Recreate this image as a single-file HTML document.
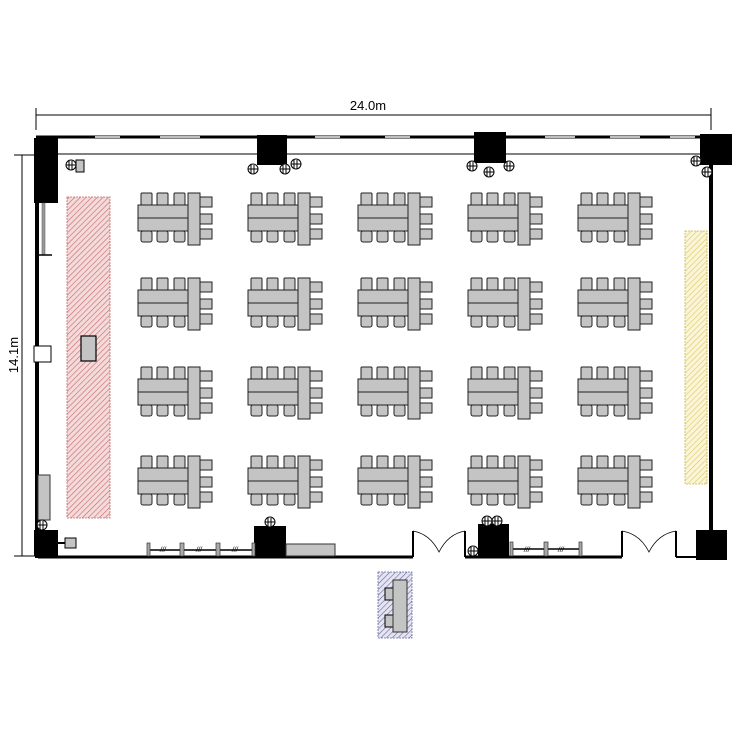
<!DOCTYPE html>
<html><head><meta charset="utf-8"><style>html,body{margin:0;padding:0;background:#fff}svg{display:block}</style></head>
<body>
<svg width="750" height="750" viewBox="0 0 750 750" xmlns="http://www.w3.org/2000/svg">
<defs>
<pattern id="hr" width="4" height="4" patternUnits="userSpaceOnUse" patternTransform="rotate(45)"><rect width="4" height="4" fill="#f4dada"/><line x1="0" y1="0" x2="0" y2="4" stroke="#c46a6a" stroke-width="1.2"/></pattern>
<pattern id="hy" width="4" height="4" patternUnits="userSpaceOnUse" patternTransform="rotate(45)"><rect width="4" height="4" fill="#fbf5d6"/><line x1="0" y1="0" x2="0" y2="4" stroke="#d8c86a" stroke-width="1.2"/></pattern>
<pattern id="hb" width="4" height="4" patternUnits="userSpaceOnUse" patternTransform="rotate(45)"><rect width="4" height="4" fill="#e4e4f2"/><line x1="0" y1="0" x2="0" y2="4" stroke="#6a6aa0" stroke-width="1.2"/></pattern>
<g id="grp" stroke="#222" stroke-width="1" fill="#c4c4c4">
<rect x="3" y="0" width="11" height="12" rx="1"/><rect x="19" y="0" width="11" height="12" rx="1"/><rect x="36" y="0" width="11" height="12" rx="1"/>
<rect x="3" y="38" width="11" height="11" rx="2"/><rect x="19" y="38" width="11" height="11" rx="2"/><rect x="36" y="38" width="11" height="11" rx="2"/>
<rect x="0" y="12" width="50" height="26"/><line x1="0" y1="25" x2="50" y2="25"/>
<rect x="62" y="4" width="12" height="10"/><rect x="62" y="21" width="12" height="10"/><rect x="62" y="36" width="12" height="10"/>
<rect x="50" y="0" width="12" height="52"/>
</g>
<g id="ch" stroke="#000" stroke-width="1" fill="#fff"><circle r="5"/><line x1="-2" y1="-4" x2="-2" y2="5"/><line x1="1" y1="-4" x2="1" y2="5"/><line x1="-5" y1="0" x2="5" y2="0"/></g>
</defs>

<!-- dimensions -->
<line x1="36" y1="115" x2="711" y2="115" stroke="#000" stroke-width="1"/>
<line x1="36" y1="108" x2="36" y2="130" stroke="#000"/><line x1="711" y1="108" x2="711" y2="130" stroke="#000"/>
<text x="368" y="110" font-family="Liberation Sans, sans-serif" font-size="13" text-anchor="middle">24.0m</text>
<line x1="22" y1="155" x2="22" y2="556" stroke="#000"/>
<line x1="14" y1="155" x2="38" y2="155" stroke="#000"/><line x1="14" y1="556" x2="38" y2="556" stroke="#000"/>
<text transform="translate(18,355) rotate(-90)" font-family="Liberation Sans, sans-serif" font-size="13" text-anchor="middle">14.1m</text>

<!-- walls -->
<line x1="36" y1="137" x2="712" y2="137" stroke="#000" stroke-width="3"/>
<line x1="58" y1="154" x2="700" y2="154" stroke="#000" stroke-width="1"/>
<g stroke="#fff" stroke-width="1.5"><line x1="95" y1="137" x2="120" y2="137"/><line x1="160" y1="137" x2="200" y2="137"/><line x1="315" y1="137" x2="340" y2="137"/><line x1="385" y1="137" x2="410" y2="137"/><line x1="545" y1="137" x2="575" y2="137"/><line x1="610" y1="137" x2="640" y2="137"/><line x1="670" y1="137" x2="695" y2="137"/></g>
<rect x="35" y="138" width="4" height="420" fill="#000"/>
<rect x="34" y="138" width="24" height="65" fill="#000"/>
<rect x="42" y="203" width="3" height="52" fill="#999" stroke="#555" stroke-width="0.5"/>
<line x1="38" y1="255" x2="52" y2="255" stroke="#000" stroke-width="1.5"/>
<rect x="34" y="346" width="17" height="16" fill="#fff" stroke="#000"/>
<rect x="38" y="475" width="12" height="45" fill="#c4c4c4" stroke="#333"/>
<rect x="34" y="530" width="24" height="26" fill="#000"/>
<line x1="58" y1="543" x2="65" y2="543" stroke="#000" stroke-width="2"/>
<rect x="65" y="538" width="11" height="10" fill="#c4c4c4" stroke="#000"/>
<line x1="38" y1="557" x2="413" y2="557" stroke="#000" stroke-width="3"/>
<line x1="413" y1="557" x2="413" y2="531" stroke="#000" stroke-width="2"/>
<line x1="465" y1="557" x2="465" y2="531" stroke="#000" stroke-width="2"/>
<path d="M413,531 Q430,534 439,552 Q448,534 465,531" fill="none" stroke="#000" stroke-width="0.8"/>
<line x1="465" y1="557" x2="622" y2="557" stroke="#000" stroke-width="3"/>
<line x1="622" y1="557" x2="622" y2="531" stroke="#000" stroke-width="2"/>
<line x1="676" y1="557" x2="676" y2="531" stroke="#000" stroke-width="2"/>
<path d="M622,531 Q640,534 649,552 Q658,534 676,531" fill="none" stroke="#000" stroke-width="0.8"/>
<line x1="676" y1="557" x2="697" y2="557" stroke="#000" stroke-width="2"/>
<rect x="709" y="165" width="4" height="366" fill="#000"/>
<rect x="700" y="134" width="32" height="31" fill="#000"/>
<rect x="696" y="530" width="31" height="30" fill="#000"/>

<!-- pillars -->
<rect x="257" y="135" width="30" height="30" fill="#000"/>
<rect x="474" y="132" width="32" height="31" fill="#000"/>
<rect x="254" y="526" width="32" height="31" fill="#000"/>
<rect x="286" y="544" width="49" height="12" fill="#c4c4c4" stroke="#333"/>
<rect x="478" y="524" width="31" height="33" fill="#000"/>

<!-- fences -->
<g stroke="#000" stroke-width="1.5"><line x1="148" y1="550" x2="254" y2="550"/><line x1="510" y1="549" x2="582" y2="549"/></g>
<g fill="#aaa" stroke="#333" stroke-width="0.7"><rect x="147" y="543" width="3" height="13"/><rect x="180" y="543" width="4" height="13"/><rect x="216" y="543" width="4" height="13"/><rect x="252" y="543" width="3" height="13"/>
<rect x="510" y="542" width="3" height="14"/><rect x="544" y="542" width="4" height="14"/><rect x="579" y="542" width="3" height="14"/></g>
<g font-family="Liberation Sans, sans-serif" font-size="7" font-style="italic"><text x="160" y="552">///</text><text x="196" y="552">///</text><text x="232" y="552">///</text><text x="524" y="552">///</text><text x="558" y="552">///</text></g>

<!-- chairs near pillars -->
<use href="#ch" x="71" y="165"/><rect x="76" y="160" width="8" height="12" fill="#c4c4c4" stroke="#000"/>
<use href="#ch" x="253" y="169"/><use href="#ch" x="285" y="169"/><use href="#ch" x="296" y="164"/>
<use href="#ch" x="472" y="166"/><use href="#ch" x="489" y="172"/><use href="#ch" x="509" y="166"/>
<use href="#ch" x="696" y="161"/><use href="#ch" x="707" y="172"/>
<use href="#ch" x="42" y="525"/><use href="#ch" x="270" y="522"/><use href="#ch" x="487" y="521"/><use href="#ch" x="497" y="521"/><use href="#ch" x="473" y="551"/>

<!-- zones -->
<rect x="67" y="197" width="43" height="321" fill="url(#hr)" stroke="#c46a6a" stroke-width="0.8" stroke-dasharray="2,1"/>
<rect x="81" y="336" width="15" height="25" fill="#c4c4c4" stroke="#000" stroke-width="1.2"/>
<rect x="685" y="231" width="22" height="253" fill="url(#hy)" stroke="#c8b650" stroke-width="0.8" stroke-dasharray="2,1"/>
<rect x="378" y="572" width="34" height="66" fill="url(#hb)" stroke="#6a6aa0" stroke-width="0.8" stroke-dasharray="2,1"/>
<rect x="385" y="588" width="8" height="12" fill="#c4c4c4" stroke="#000"/><rect x="385" y="615" width="8" height="12" fill="#c4c4c4" stroke="#000"/>
<rect x="393" y="580" width="14" height="52" fill="#c4c4c4" stroke="#333"/>

<!-- table groups -->
<g>
<use href="#grp" x="138" y="193"/><use href="#grp" x="248" y="193"/><use href="#grp" x="358" y="193"/><use href="#grp" x="468" y="193"/><use href="#grp" x="578" y="193"/>
<use href="#grp" x="138" y="278"/><use href="#grp" x="248" y="278"/><use href="#grp" x="358" y="278"/><use href="#grp" x="468" y="278"/><use href="#grp" x="578" y="278"/>
<use href="#grp" x="138" y="367"/><use href="#grp" x="248" y="367"/><use href="#grp" x="358" y="367"/><use href="#grp" x="468" y="367"/><use href="#grp" x="578" y="367"/>
<use href="#grp" x="138" y="456"/><use href="#grp" x="248" y="456"/><use href="#grp" x="358" y="456"/><use href="#grp" x="468" y="456"/><use href="#grp" x="578" y="456"/>
</g>
</svg>
</body></html>
